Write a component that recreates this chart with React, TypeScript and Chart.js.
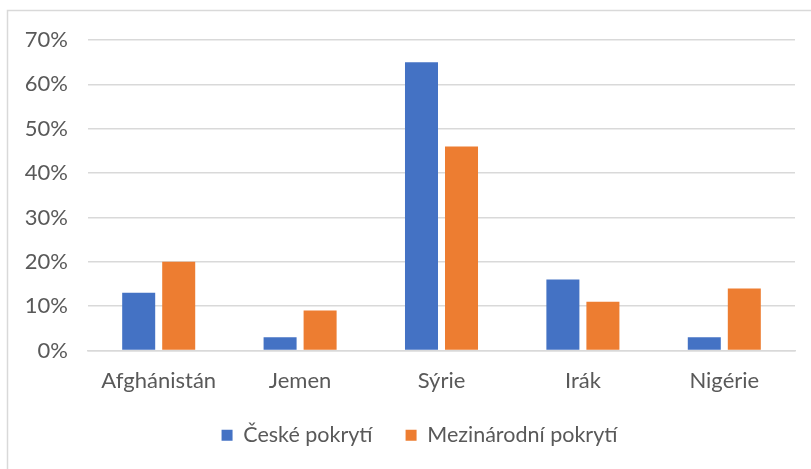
import React, { useEffect, useRef } from "react";
import { Chart, registerables } from "chart.js";

Chart.register(...registerables);

const categories = ["Afghánistán", "Jemen", "Sýrie", "Irák", "Nigérie"];
const czechCoverage = [13, 3, 65, 16, 3];
const internationalCoverage = [20, 9, 46, 11, 14];
const seriesNames = ["České pokrytí", "Mezinárodní pokrytí"];

const FONT = "Lato, 'Noto Sans', sans-serif";

const frame = {
  id: "frame",
  beforeDraw(chart: any) {
    const ctx = chart.ctx;
    ctx.save();
    ctx.fillStyle = "#ffffff";
    ctx.fillRect(0, 0, chart.width, chart.height);
    ctx.strokeStyle = "#d9d9d9";
    ctx.lineWidth = 1.5;
    ctx.strokeRect(7.5, 10.5, chart.width + 20, chart.height + 20);
    ctx.restore();
  },
};

const moveLegend = {
  id: "moveLegend",
  afterLayout(chart: any) {
    const lg = chart.legend;
    if (lg) {
      lg.top -= 11;
      lg.bottom -= 11;
      lg.left += 22;
      lg.right += 22;
    }
  },
};

export default function App() {
  const ref = useRef<HTMLCanvasElement | null>(null);
  useEffect(() => {
    if (!ref.current) return;
    const chart = new Chart(ref.current, {
      type: "bar",
      data: {
        labels: categories,
        datasets: [
          {
            label: seriesNames[0],
            data: czechCoverage,
            backgroundColor: "#4472C4",
            categoryPercentage: 0.566,
            barPercentage: 0.825,
          },
          {
            label: seriesNames[1],
            data: internationalCoverage,
            backgroundColor: "#ED7D31",
            categoryPercentage: 0.566,
            barPercentage: 0.825,
          },
        ],
      },
      options: {
        animation: false,
        responsive: false,
        maintainAspectRatio: false,
        layout: { padding: { left: 0, right: 16, top: 40, bottom: 2 } },
        plugins: {
          tooltip: { enabled: false },
          legend: {
            position: "bottom",
            labels: {
              boxWidth: 11,
              boxHeight: 11,
              padding: 33,
              color: "#595959",
              font: { family: FONT, size: 21.5 },
            },
          },
        },
        scales: {
          x: {
            grid: { display: false, drawTicks: false },
            border: { display: true, color: "#d9d9d9", width: 1.5 },
            ticks: {
              color: "#595959",
              font: { family: FONT, size: 22 },
              padding: 17,
            },
            afterFit(scale: any) {
              scale.height = 52;
            },
          },
          y: {
            min: 0,
            max: 70,
            grid: { color: "#d9d9d9", lineWidth: 1.5, drawTicks: false },
            border: { display: false },
            ticks: {
              stepSize: 10,
              color: "#595959",
              font: { family: FONT, size: 22 },
              padding: 20,
              callback: (v: any) => v + "%",
            },
            afterFit(scale: any) {
              scale.width = 88;
            },
          },
        },
      },
      plugins: [frame, moveLegend],
    });
    return () => chart.destroy();
  }, []);
  return (
    <div style={{ position: "absolute", left: 0, top: 0, width: 811, height: 469 }}>
      <canvas ref={ref} width={811} height={469} style={{ display: "block" }} />
    </div>
  );
}
